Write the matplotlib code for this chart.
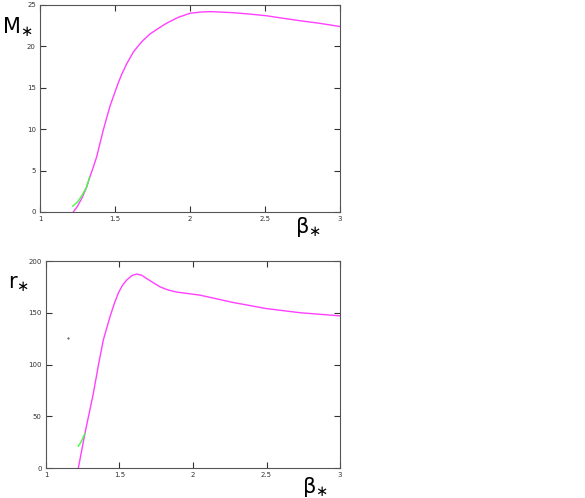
import matplotlib
matplotlib.use("Agg")
import matplotlib.pyplot as plt

# Top panel: M* vs beta*
m_beta = [1.222, 1.25, 1.28, 1.311, 1.333, 1.355, 1.378, 1.40, 1.422, 1.445, 1.467, 1.5, 1.522, 1.544, 1.578, 1.60, 1.622, 1.65, 1.68, 1.733, 1.80, 1.844, 1.92, 2.0, 2.07, 2.133, 2.2, 2.29, 2.4, 2.51, 2.62, 2.733, 2.86, 3.0]
m_val = [0.0, 0.7, 1.7, 3.0, 4.26, 5.4, 6.68, 8.3, 9.9, 11.4, 12.8, 14.5, 15.6, 16.6, 17.9, 18.6, 19.3, 19.95, 20.6, 21.5, 22.3, 22.8, 23.5, 24.0, 24.15, 24.2, 24.15, 24.07, 23.9, 23.7, 23.4, 23.1, 22.8, 22.4]
m_green_beta = [1.218, 1.25, 1.28, 1.31, 1.33]
m_green_val = [0.7, 1.2, 2.0, 3.0, 4.2]

# Bottom panel: r* vs beta*
r_beta = [1.22, 1.265, 1.322, 1.36, 1.39, 1.435, 1.465, 1.492, 1.52, 1.549, 1.585, 1.617, 1.65, 1.685, 1.73, 1.776, 1.83, 1.889, 2.048, 2.27, 2.5, 2.73, 3.0]
r_val = [0, 33.5, 72, 102, 123.7, 146, 159, 169, 176.5, 181.6, 186, 187.4, 186.3, 183, 179, 175, 172, 170, 167, 160, 154, 150, 147]
r_green_beta = [1.22, 1.24, 1.265]
r_green_val = [21, 25.5, 33.5]
dot_beta = [1.152]
dot_val = [126]

magenta = "#ff40ff"
green = "#40ff40"

fig = plt.figure(figsize=(5.85, 4.98), dpi=100)

def style(ax, ylim, yticks):
    ax.set_xlim(1, 3)
    ax.set_ylim(*ylim)
    ax.set_xticks([1, 1.5, 2, 2.5, 3])
    ax.set_xticklabels(["1", "1.5", "2", "2.5", "3"])
    ax.set_yticks(yticks)
    ax.set_yticklabels([str(t) for t in yticks])
    ax.tick_params(direction="in", length=4, width=0.8, labelsize=5, pad=3,
                   right=True, top=True, colors="#333333")
    for s in ax.spines.values():
        s.set_color("#555555")
        s.set_linewidth(0.8)

ax1 = fig.add_axes([40/585, 1-212/498, 300/585, 207/498])
ax1.plot(m_beta, m_val, color=magenta, lw=1)
ax1.plot(m_green_beta, m_green_val, color=green, lw=1)
style(ax1, (0, 25), [0, 5, 10, 15, 20, 25])

ax2 = fig.add_axes([46/585, 1-468/498, 294/585, 207/498])
ax2.plot(r_beta, r_val, color=magenta, lw=1)
ax2.plot(r_green_beta, r_green_val, color=green, lw=1)
ax2.plot(dot_beta, dot_val, marker='.', ms=1, color="#444444", ls='none')
style(ax2, (0, 200), [0, 50, 100, 150, 200])

fig.text(2/585, 1-15/498, r"M$_{\ast}$", fontsize=15, va="top")
fig.text(295/585, 1-215/498, r"β$_{\ast}$", fontsize=15, va="top")
fig.text(8/585, 1-274/498, r"r$_{\ast}$", fontsize=15, va="top")
fig.text(302/585, 1-475/498, r"β$_{\ast}$", fontsize=15, va="top")

fig.savefig("out.png", dpi=100)
